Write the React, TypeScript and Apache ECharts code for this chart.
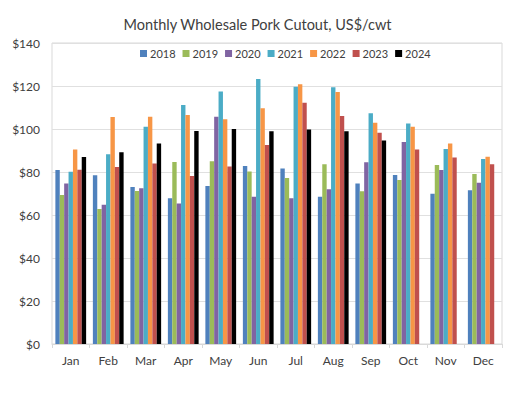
import React, { useEffect, useRef } from "react";
import * as echarts from "echarts";

const months = ["Jan", "Feb", "Mar", "Apr", "May", "Jun", "Jul", "Aug", "Sep", "Oct", "Nov", "Dec"];
const years = ["2018", "2019", "2020", "2021", "2022", "2023", "2024"];
const colors = ["#4F81BD", "#9BBB59", "#8064A2", "#4BACC6", "#F79646", "#C0504D", "#000000"];

const v2018 = [80.9, 78.5, 73.0, 67.8, 73.5, 82.8, 81.6, 68.5, 74.6, 78.6, 69.9, 71.5];
const v2019 = [69.3, 62.8, 71.2, 84.7, 85.0, 80.2, 77.2, 83.6, 71.0, 76.3, 83.3, 79.1];
const v2020 = [74.6, 64.8, 72.4, 65.4, 105.7, 68.5, 67.8, 72.0, 84.5, 94.0, 80.9, 75.0];
const v2021 = [80.1, 88.2, 101.1, 111.2, 117.4, 123.3, 119.7, 119.4, 107.3, 102.6, 90.7, 86.0];
const v2022 = [90.5, 105.6, 105.7, 106.5, 104.5, 109.6, 120.8, 117.2, 102.9, 101.1, 93.3, 87.1];
const v2023 = [81.1, 82.3, 83.9, 78.1, 82.6, 92.6, 112.2, 106.0, 98.3, 90.5, 86.7, 83.6];
const v2024 = [87.0, 89.2, 93.2, 99.1, 100.0, 98.9, 99.8, 98.9, 94.7, null, null, null];

const seriesValues = [v2018, v2019, v2020, v2021, v2022, v2023, v2024];

export default function App() {
  const ref = useRef<HTMLDivElement>(null);
  useEffect(() => {
    if (!ref.current) return;
    const chart = echarts.init(ref.current, null, { renderer: "svg" });
    const font = "Lato";
    chart.setOption({
      animation: false,
      backgroundColor: "#ffffff",
      textStyle: { fontFamily: font },
      title: {
        text: "Monthly Wholesale Pork Cutout, US$/cwt",
        left: "center",
        top: 12,
        textStyle: { fontFamily: font, fontSize: 14.5, fontWeight: "normal", color: "#404040" },
      },
      legend: {
        data: years,
        top: 43,
        left: 135,
        itemWidth: 7,
        itemHeight: 7,
        itemGap: 7,
        icon: "rect",
        textStyle: { fontFamily: font, fontSize: 11, color: "#404040", padding: [0, 0, 0, -2] },
      },
      grid: {
        left: 52,
        right: 13,
        top: 43,
        bottom: 51,
        show: true,
        borderColor: "#d9d9d9",
        borderWidth: 1,
      },
      xAxis: {
        type: "category",
        data: months,
        axisLine: { lineStyle: { color: "#d9d9d9" } },
        axisTick: { show: true, length: 4, lineStyle: { color: "#d9d9d9" } },
        axisLabel: { fontFamily: font, fontSize: 12, color: "#404040", margin: 10 },
      },
      yAxis: {
        type: "value",
        min: 0,
        max: 140,
        interval: 20,
        axisLine: { show: false },
        axisTick: { show: false },
        splitLine: { lineStyle: { color: "#e0e0e0" } },
        axisLabel: { fontFamily: font, fontSize: 12, color: "#404040", margin: 12, formatter: (v: number) => "$" + v },
      },
      series: years.map((y, i) => ({
        name: y,
        type: "bar",
        data: seriesValues[i],
        barGap: "0%",
        barCategoryGap: "18%",
        itemStyle: { color: colors[i] },
      })),
    });
    return () => chart.dispose();
  }, []);
  return <div ref={ref} style={{ width: 515, height: 395, position: "absolute", left: 0, top: 0 }} />;
}
